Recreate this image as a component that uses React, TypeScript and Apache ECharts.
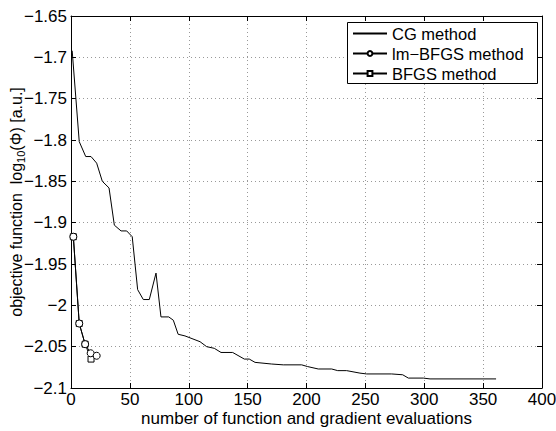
import React, { useEffect, useRef } from "react";
import * as echarts from "echarts";

const cgX = [1, 7, 12.5, 17, 21.8, 26.6, 32.3, 36.8, 42.5, 47.3, 52, 56.6, 61.4, 66.5, 72.2, 76.4, 83, 86.9, 91, 96.8, 109.6, 115.2, 121.7, 127.4, 137.3, 147.2, 151.4, 156.3, 170.4, 180.3, 195.9, 200.7, 210, 221.4, 226.5, 234.1, 245.4, 251.1, 272.3, 281.7, 286.5, 299.2, 304.9, 361];
const cgY = [-1.692, -1.802, -1.82, -1.82, -1.828, -1.85, -1.858, -1.903, -1.91, -1.91, -1.917, -1.981, -1.993, -1.993, -1.961, -2.014, -2.014, -2.018, -2.035, -2.037, -2.044, -2.05, -2.052, -2.057, -2.057, -2.065, -2.065, -2.069, -2.071, -2.072, -2.072, -2.074, -2.077, -2.077, -2.079, -2.079, -2.082, -2.083, -2.083, -2.084, -2.088, -2.088, -2.089, -2.089];
const lmX = [2, 7, 12, 16.7, 21.8];
const lmY = [-1.917, -2.022, -2.047, -2.058, -2.061];
const bfX = [2, 7, 12, 17];
const bfY = [-1.917, -2.022, -2.047, -2.065];
const xTicks = [0, 50, 100, 150, 200, 250, 300, 350, 400];
const yTicks = [-2.1, -2.05, -2, -1.95, -1.9, -1.85, -1.8, -1.75, -1.7, -1.65];
const seriesNames = ["CG method", "lm\u2212BFGS method", "BFGS method"];

const FONT = "Liberation Sans, Arial, sans-serif";

export default function App() {
  const ref = useRef<HTMLDivElement>(null);
  useEffect(() => {
    const chart = echarts.init(ref.current!, null, { renderer: "svg" });
    const pairs = (xs: number[], ys: number[]) => xs.map((x, i) => [x, ys[i]]);
    const fmtY = (v: number) => String(+v.toFixed(2)).replace("-", "\u2212");
    const baseX = {
      type: "value" as const,
      min: xTicks[0],
      max: xTicks[xTicks.length - 1],
      interval: xTicks[1] - xTicks[0],
    };
    const baseY = {
      type: "value" as const,
      min: yTicks[0],
      max: yTicks[yTicks.length - 1],
      interval: 0.05,
    };
    const axisLine = { show: true, onZero: false, lineStyle: { color: "#000", width: 1 } };
    const axisTick = { show: true, inside: true, length: 5, lineStyle: { color: "#000" } };
    chart.setOption({
      animation: false,
      backgroundColor: "#fff",
      textStyle: { fontFamily: FONT },
      grid: { left: 71, top: 16, right: 14, bottom: 43, containLabel: false, outerBoundsMode: "none" },
      graphic: [
        {
          type: "rect",
          left: 347,
          top: 22,
          shape: { width: 190, height: 61 },
          style: { fill: "#fff", stroke: "#000", lineWidth: 1 },
          z: 5,
        },
      ],
      legend: {
        data: [
          { name: seriesNames[0], itemStyle: { opacity: 0 } },
          { name: seriesNames[1] },
          { name: seriesNames[2] },
        ],
        orient: "vertical",
        left: 347,
        top: 22,
        z: 10,
        itemWidth: 34,
        itemHeight: 6,
        itemGap: 3,
        padding: [3, 5, 3, 5],
        textStyle: { fontFamily: FONT, fontSize: 16.5, color: "#000" },
      },
      xAxis: [
        {
          ...baseX,
          position: "bottom",
          axisLine,
          axisTick,
          axisLabel: { color: "#000", fontSize: 17, lineHeight: 17, fontFamily: FONT, margin: 3 },
          splitLine: { show: true, lineStyle: { color: "#999", type: [1, 3], width: 1 } },
          name: "number of function and gradient evaluations",
          nameLocation: "middle",
          nameGap: 22,
          nameMoveOverlap: false,
          nameTextStyle: { color: "#000", fontSize: 17, lineHeight: 17, fontFamily: FONT },
        },
        {
          ...baseX,
          position: "top",
          axisLine,
          axisTick,
          axisLabel: { show: false },
          splitLine: { show: false },
        },
      ],
      yAxis: [
        {
          ...baseY,
          position: "left",
          axisLine,
          axisTick,
          axisLabel: { color: "#000", fontSize: 17, fontFamily: FONT, margin: 4, formatter: fmtY },
          splitLine: { show: true, lineStyle: { color: "#999", type: [1, 3], width: 1 } },
          name: "objective function  log{sub|10}(\u03A6) [a.u.]",
          nameLocation: "middle",
          nameRotate: 90,
          nameGap: 45,
          nameMoveOverlap: false,
          nameTextStyle: {
            color: "#000",
            fontSize: 16,
            fontFamily: FONT,
            rich: { sub: { fontSize: 11, fontFamily: FONT, color: "#000", padding: [9, 0, 0, 0] } },
          },
        },
        {
          ...baseY,
          position: "right",
          axisLine,
          axisTick,
          axisLabel: { show: false },
          splitLine: { show: false },
        },
      ],
      series: [
        {
          name: seriesNames[0],
          type: "line",
          data: pairs(cgX, cgY),
          showSymbol: false,
          symbol: "none",
          lineStyle: { color: "#000", width: 1 },
          itemStyle: { color: "#000" },
        },
        {
          name: seriesNames[1],
          type: "line",
          data: pairs(lmX, lmY),
          symbol: "circle",
          symbolSize: 7,
          lineStyle: { color: "#000", width: 1 },
          itemStyle: { color: "#fff", borderColor: "#000", borderWidth: 1 },
          z: 3,
        },
        {
          name: seriesNames[2],
          type: "line",
          data: pairs(bfX, bfY),
          symbol: "rect",
          symbolSize: 6,
          lineStyle: { color: "#000", width: 1 },
          itemStyle: { color: "#fff", borderColor: "#000", borderWidth: 1 },
          z: 2,
        },
      ],
    });
    return () => chart.dispose();
  }, []);
  return <div ref={ref} style={{ width: 556, height: 431, position: "absolute", left: 0, top: 0 }} />;
}
